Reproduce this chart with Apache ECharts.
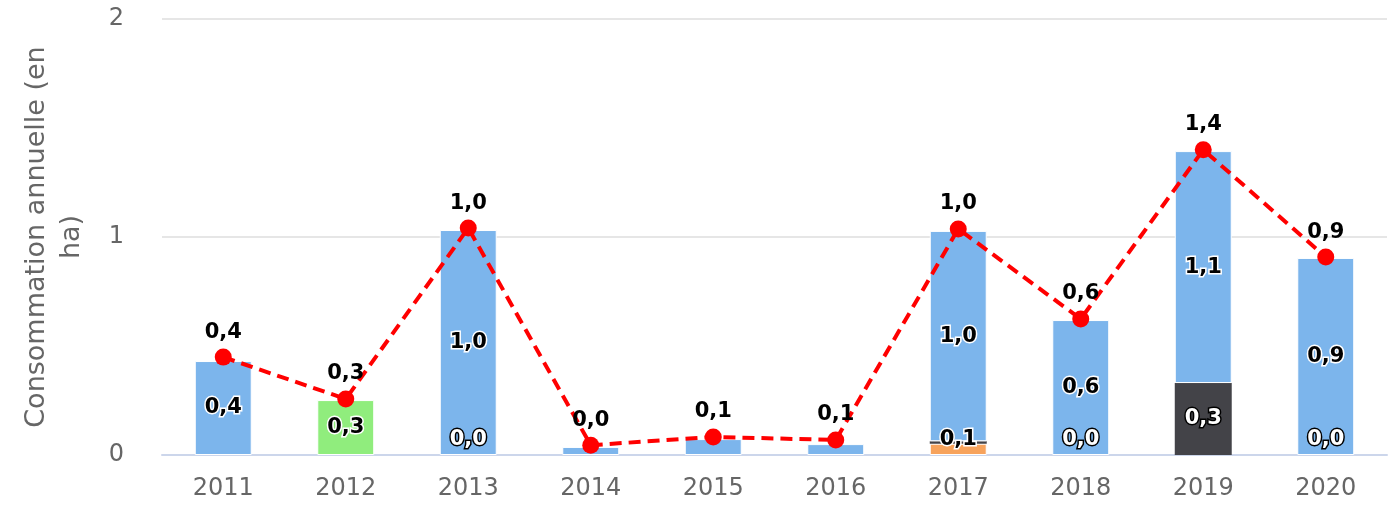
<!DOCTYPE html>
<html>
<head>
<meta charset="utf-8">
<script src="https://cdn.jsdelivr.net/npm/echarts@6/dist/echarts.min.js"></script>
<style>
  html, body { margin: 0; padding: 0; background: #ffffff; }
  #chart { width: 1398px; height: 506px; }
</style>
</head>
<body>
<div id="chart"></div>
<script>
const categories = ['2011', '2012', '2013', '2014', '2015', '2016', '2017', '2018', '2019', '2020'];
const blueValues   = [0.431, null, 1.032, 0.037, 0.073, 0.05, 0.965, 0.619, 1.064, 0.904];
const greenValues  = [null, 0.252, null, null, null, null, null, null, null, null];
const orangeValues = [null, null, null, null, null, null, 0.052, null, null, null];
const darkValues   = [null, null, 0, null, null, null, 0.011, 0, 0.33, 0];
const totalValues  = [0.449, 0.257, 1.041, 0.045, 0.083, 0.069, 1.037, 0.624, 1.40, 0.908];
const yTicks = [0, 1, 2];

const FONT = 'DejaVu Sans';
const fmt = v => (v == null ? '' : Number(v).toFixed(1).replace('.', ','));

function barData(values, minShow) {
  return values.map(v => {
    if (v == null) return null;
    const small = v < 0.1;
    const show = v === 0 || v >= minShow;
    return {
      value: v,
      label: { show: show, position: small ? 'insideBottom' : 'inside', distance: 5 }
    };
  });
}

const insideLabelDark = {
  fontFamily: FONT, fontSize: 21, fontWeight: 'bold',
  color: '#000000', textBorderColor: '#ffffff', textBorderWidth: 3,
  formatter: p => fmt(p.value)
};
const insideLabelLight = {
  fontFamily: FONT, fontSize: 21, fontWeight: 'bold',
  color: '#ffffff', textBorderColor: '#000000', textBorderWidth: 3,
  formatter: p => fmt(p.value)
};

const chart = echarts.init(document.getElementById('chart'), null, { renderer: 'canvas' });
chart.setOption({
  animation: false,
  backgroundColor: '#ffffff',
  grid: { left: 162, right: 11, top: 19, bottom: 51, containLabel: false },
  xAxis: {
    type: 'category',
    data: categories,
    axisLine: { lineStyle: { color: '#ccd6eb', width: 2 } },
    axisTick: { show: false },
    axisLabel: { fontFamily: FONT, fontSize: 24, color: '#666666', margin: 22 },
    splitLine: { show: false }
  },
  yAxis: {
    type: 'value',
    min: yTicks[0], max: yTicks[yTicks.length - 1], interval: 1,
    name: 'Consommation annuelle (en\nha)',
    nameLocation: 'middle',
    nameRotate: 90,
    nameGap: 73,
    nameTextStyle: { fontFamily: FONT, fontSize: 27, color: '#666666', lineHeight: 35 },
    axisLine: { show: false },
    axisTick: { show: false },
    axisLabel: { fontFamily: FONT, fontSize: 24, color: '#666666', margin: 38 },
    splitLine: { lineStyle: { color: '#e6e6e6', width: 2 } }
  },
  series: [
    {
      name: 'orange', type: 'bar', stack: 'total', barWidth: '46.5%',
      data: barData(orangeValues, 0.01),
      itemStyle: { color: '#f7a35c', borderColor: '#ffffff', borderWidth: 1 },
      label: insideLabelDark
    },
    {
      name: 'dark', type: 'bar', stack: 'total', barWidth: '46.5%',
      data: barData(darkValues, 0.1),
      itemStyle: { color: '#434348' },
      label: insideLabelLight
    },
    {
      name: 'green', type: 'bar', stack: 'total', barWidth: '46.5%',
      data: barData(greenValues, 0.1),
      itemStyle: { color: '#90ed7d', borderColor: '#ffffff', borderWidth: 1 },
      label: insideLabelDark
    },
    {
      name: 'blue', type: 'bar', stack: 'total', barWidth: '46.5%',
      data: barData(blueValues, 0.1),
      itemStyle: { color: '#7cb5ec', borderColor: '#ffffff', borderWidth: 1 },
      label: insideLabelDark
    },
    {
      name: 'total', type: 'line',
      data: totalValues,
      symbol: 'circle', symbolSize: 17,
      itemStyle: { color: '#ff0000' },
      lineStyle: { color: '#ff0000', width: 4, type: [12, 7] },
      label: {
        show: true, position: 'top', distance: 6,
        fontFamily: FONT, fontSize: 21, fontWeight: 'bold', color: '#000000',
        formatter: p => fmt(p.value)
      },
      z: 5
    }
  ]
});
</script>
</body>
</html>
